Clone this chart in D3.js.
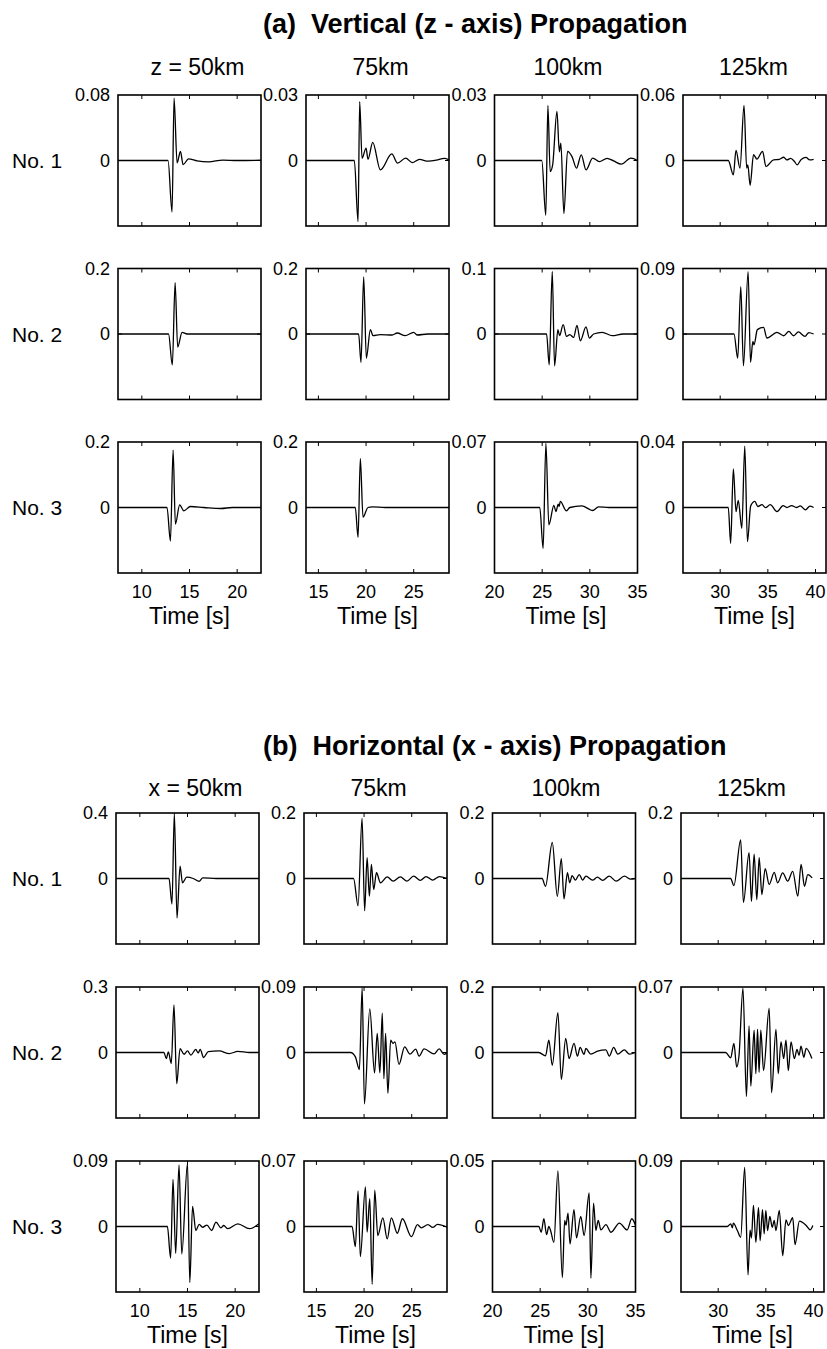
<!DOCTYPE html>
<html>
<head>
<meta charset="utf-8">
<script src="https://cdn.jsdelivr.net/npm/d3@7"></script>
<style>
  html, body { margin:0; padding:0; background:#fff; }
  svg { display:block; font-family:'Liberation Sans', Arial, Helvetica, sans-serif; }
  .title { white-space: pre; }
</style>
</head>
<body>
<svg id="chart" width="827" height="1349"></svg>
<script>
'use strict';

// headings and axes
var sectionTitles = ['(a)  Vertical (z - axis) Propagation', '(b)  Horizontal (x - axis) Propagation'];
var colTitlesA = ['z = 50km', '75km', '100km', '125km'];
var colTitlesB = ['x = 50km', '75km', '100km', '125km'];
var rowLabels = ['No. 1', 'No. 2', 'No. 3'];
var timeRanges = [[7.5, 22.5], [13.7, 28.7], [20, 35], [26.1, 41.1]];
var timeTicks = [[10, 15, 20], [15, 20, 25], [20, 25, 30, 35], [30, 35, 40]];
var ampMaxA = [[0.08, 0.03, 0.03, 0.06], [0.2, 0.2, 0.1, 0.09], [0.2, 0.2, 0.07, 0.04]];
var ampMaxB = [[0.4, 0.2, 0.2, 0.2], [0.3, 0.09, 0.2, 0.07], [0.09, 0.07, 0.05, 0.09]];

// (a) vertical propagation, [time s, amplitude]
var vert1_50 = [[7.5,0],[12.75,0],[13.17,-0.063],[13.38,0.076],[13.7,-0.003],[14.05,0.011],[14.33,-0.005],[14.9,0.002],[15.8,-0.0005],[17.0,-0.0016],[18.5,0.0005],[20.0,0],[22.5,0.0003]];
var vert1_75 = [[13.7,0],[18.77,0],[19.16,-0.028],[19.33,0.027],[19.58,0.001],[20.0,0.0057],[20.2,0.0006],[20.7,0.0083],[21.5,-0.0043],[22.7,0.003],[23.3,-0.0012],[24.15,0.0011],[24.85,-0.001],[25.6,0.0005],[26.5,-0.0003],[27.5,0.0003],[28.2,0.001],[28.7,0.0003]];
var vert1_100 = [[20,0],[24.96,0],[25.38,-0.0251],[25.6,0.0252],[25.84,-0.0051],[26.1,-0.002],[26.55,0.0225],[26.8,0.004],[26.96,0.008],[27.28,-0.0243],[27.66,0.0042],[28.13,0.0018],[28.6,-0.0035],[29.1,0.0026],[29.6,-0.0043],[30.3,0.0011],[31.0,-0.0005],[31.8,0.001],[32.5,-0.0002],[33.3,-0.0017],[34.3,0.0011],[35,0]];
var vert1_125 = [[26.1,0],[30.85,0],[31.38,-0.0132],[31.66,0.0092],[32.08,-0.007],[32.5,0.0505],[32.78,-0.007],[32.9,-0.004],[33.14,-0.0227],[33.5,0.0053],[33.85,0.0013],[34.45,0.0083],[34.8,-0.0055],[35.6,0.0006],[36.2,0.001],[36.66,0.003],[37.0,0.0005],[37.4,0.002],[37.8,-0.001],[38.07,-0.004],[38.5,0.001],[39.0,0.0028],[39.4,0.0005],[39.8,0.001]];
var vert2_50 = [[7.5,0],[12.8,0],[13.2,-0.0945],[13.49,0.157],[13.76,-0.04],[14.22,0.005],[14.75,0],[22.5,0]];
var vert2_75 = [[13.7,0],[19.22,0],[19.47,-0.087],[19.75,0.174],[20.03,-0.074],[20.45,0.013],[20.73,-0.005],[21.5,-0.002],[22.74,-0.003],[23.27,0.003],[24.1,-0.005],[25.0,0.005],[25.35,-0.003],[26.5,0],[28.7,0]];
var vert2_100 = [[20,0],[25.46,0],[25.74,-0.047],[26.06,0.0954],[26.3,-0.0488],[26.65,0.0066],[26.83,-0.0026],[27.2,0.0143],[27.56,-0.0037],[27.9,-0.001],[28.3,-0.0052],[28.65,0.0133],[29.0,-0.0103],[29.6,0.0108],[29.95,-0.0062],[30.4,0],[31.3,0.0025],[32.35,-0.0026],[33.5,0],[35,0]];
var vert2_125 = [[26.1,0],[31.45,0],[31.84,-0.0332],[32.16,0.065],[32.44,-0.0439],[32.93,0.0858],[33.18,-0.0388],[33.43,-0.0102],[33.55,-0.0148],[33.9,0.006],[34.55,0.0092],[34.9,-0.0055],[35.96,0.0022],[36.66,-0.0024],[37.2,0.0036],[37.7,-0.0024],[38.2,0.0028],[38.9,-0.0033],[39.3,0.002],[39.8,0]];
var vert3_50 = [[7.5,0],[12.64,0],[13.0,-0.1025],[13.28,0.1754],[13.52,-0.051],[13.97,0.0083],[14.4,-0.01],[15.1,0.003],[16.5,0],[18.3,-0.003],[19.5,0],[22.5,0]];
var vert3_75 = [[13.7,0],[18.87,0],[19.16,-0.091],[19.4,0.15],[19.68,-0.0295],[20.2,0],[20.65,0.002],[22,0],[28.7,0]];
var vert3_100 = [[20,0],[24.75,0],[25.1,-0.0437],[25.39,0.0686],[25.7,-0.0186],[26.23,0.0022],[26.44,-0.0043],[26.69,0.0036],[26.78,0.001],[26.9,0.0065],[27.55,-0.0036],[27.9,0],[29.15,0.0018],[30.3,-0.0032],[30.9,0.0007],[32,0],[35,0]];
var vert3_125 = [[26.1,0],[30.85,0],[31.1,-0.0219],[31.38,0.0236],[31.66,-0.0025],[31.9,0.0043],[32.27,-0.0127],[32.58,0.0375],[32.86,-0.0209],[33.2,0.001],[33.64,0.0037],[33.95,0.0006],[34.38,0.0017],[34.75,-0.0001],[35.25,0.0017],[35.96,-0.0025],[36.6,0.0012],[37.0,0],[37.5,0.0012],[38.0,0],[38.4,0.001],[38.95,-0.0014],[39.4,0.0008],[39.8,0]];

// (b) horizontal propagation, [time s, amplitude]
var horiz1_50 = [[7.5,0],[13.06,0],[13.37,-0.156],[13.62,0.398],[13.9,-0.242],[14.22,0.076],[14.47,-0.026],[14.92,0.008],[15.6,0],[16.22,-0.017],[16.6,0.004],[18,0],[22.5,0]];
var horiz1_75 = [[13.7,0],[18.9,0],[19.37,-0.083],[19.79,0.184],[20.06,-0.0985],[20.32,0.0637],[20.56,-0.054],[20.77,0.043],[21.01,-0.034],[21.3,0.0175],[21.72,-0.013],[22.42,0.005],[23.05,-0.008],[23.8,0.005],[24.5,-0.008],[25.2,0.007],[25.9,-0.006],[26.5,0.006],[27.2,-0.005],[27.9,0.006],[28.7,0]];
var horiz1_100 = [[20,0],[25.2,0],[25.56,-0.024],[26.27,0.11],[26.8,-0.0545],[27.22,0.0606],[27.5,-0.0625],[27.86,0.0175],[28.1,-0.013],[28.35,0.009],[28.7,-0.005],[29.1,0.012],[29.45,-0.005],[29.8,0.007],[30.5,-0.005],[31.0,0.004],[31.55,-0.006],[32.25,0.007],[32.96,-0.008],[33.84,0.007],[34.5,-0.002],[35,0]];
var horiz1_125 = [[26.1,0],[31.3,0],[31.65,-0.0215],[32.36,0.118],[32.65,-0.073],[33.24,0.079],[33.49,-0.07],[33.77,0.074],[34.05,-0.0646],[34.3,0.0637],[34.58,-0.049],[34.93,0.03],[35.35,-0.018],[35.88,0.019],[36.24,-0.013],[36.77,0.017],[37.29,-0.008],[37.82,0.022],[38.35,-0.054],[38.7,0.043],[39.05,-0.024],[39.4,0.012],[39.86,0.002]];
var horiz2_50 = [[7.5,0],[12.53,0],[12.78,-0.028],[12.99,0.003],[13.3,-0.05],[13.58,0.218],[13.87,-0.143],[14.22,0.018],[14.64,-0.008],[15.0,0.007],[15.35,-0.012],[15.87,0.014],[16.12,-0.002],[16.33,0.014],[16.69,-0.023],[17.17,0.004],[18.33,0.007],[19.39,-0.005],[20.28,0.005],[21.5,0],[22.5,0]];
var horiz2_75 = [[13.7,0],[18.59,0],[19.09,-0.006],[19.51,-0.0235],[19.8,0.0886],[20.04,-0.0706],[20.6,0.06],[21.1,-0.028],[21.38,0.0263],[21.66,-0.028],[21.91,0.054],[22.08,-0.036],[22.26,0.0263],[22.5,-0.056],[22.79,0.017],[23.03,0.0125],[23.24,0.0147],[23.66,-0.0162],[24.26,0.0078],[24.82,-0.0023],[25.42,0.0047],[25.77,-0.005],[26.3,0.005],[27.35,-0.002],[27.88,0.005],[28.4,-0.0025],[28.7,0]];
var horiz2_100 = [[20,0],[24.86,0],[25.56,-0.01],[25.91,0.038],[26.27,-0.039],[26.86,0.122],[27.22,-0.082],[27.68,0.043],[28.03,-0.0185],[28.55,0.0277],[28.91,-0.011],[29.19,0.0154],[29.61,-0.0056],[29.79,0.0123],[30.32,-0.005],[31.02,0.004],[31.9,0.008],[32.25,-0.011],[32.71,0.0154],[33.14,-0.005],[33.83,0.008],[34.36,-0.005],[35,0]];
var horiz2_125 = [[26.1,0],[30.78,0],[31.31,-0.0058],[31.65,0.0097],[31.94,-0.0155],[32.18,-0.004],[32.6,0.0689],[32.96,-0.047],[33.24,0.0283],[33.42,-0.036],[33.77,0.024],[33.95,-0.0226],[34.13,0.0248],[34.29,-0.0212],[34.47,0.024],[34.76,-0.0194],[35.35,0.0474],[35.6,-0.043],[36.06,0.0248],[36.3,-0.0226],[36.59,0.0114],[36.87,-0.0066],[37.11,0.0132],[37.36,-0.0194],[37.64,0.0114],[37.99,-0.0066],[38.27,0.0032],[38.48,-0.003],[38.69,0.0068],[38.98,-0.0051],[39.23,0.0044],[39.83,-0.0065]];
var horiz3_50 = [[7.5,0],[12.89,0],[13.23,-0.0434],[13.48,0.0646],[13.76,-0.037],[14.11,0.0845],[14.4,-0.0378],[15.0,0.0868],[15.24,-0.0771],[15.53,0.0277],[15.87,-0.0055],[16.22,0.003],[16.58,-0.001],[17.04,0.002],[17.53,-0.0055],[17.99,0.006],[18.51,-0.0018],[18.8,0.0014],[19.22,-0.003],[20.28,0.0037],[21.5,-0.003],[22.5,0.0037]];
var horiz3_75 = [[13.7,0],[18.74,0],[19.09,-0.0215],[19.37,0.038],[19.61,-0.0323],[20.14,0.0423],[20.32,-0.006],[20.6,0.0298],[20.85,-0.0617],[21.12,0.0388],[21.44,-0.0097],[21.97,0.0093],[22.43,-0.0133],[22.86,0.0093],[23.49,-0.0072],[24.02,0.0083],[24.97,-0.0108],[25.6,0.002],[26.0,-0.0014],[26.7,0.002],[27.2,-0.001],[27.7,0.0022],[28.7,-0.0007]];
var horiz3_100 = [[20,0],[24.86,0],[25.11,-0.0044],[25.39,0.0059],[25.67,-0.0062],[25.91,0],[26.09,-0.003],[26.44,-0.0121],[26.86,0.0425],[27.33,-0.039],[27.57,0.0046],[27.71,0.001],[27.92,0.0102],[28.13,-0.0133],[28.55,0.0128],[28.81,-0.0087],[29.26,0.0077],[29.61,-0.0069],[30.14,0.0256],[30.32,-0.0395],[30.6,0.0179],[30.84,-0.003],[31.09,0.0046],[31.37,-0.0026],[31.9,0.0015],[32.43,-0.0044],[33.31,0.0026],[34.12,-0.0026],[34.61,0.0059],[35,0.001]];
var horiz3_125 = [[26.1,0],[30.96,0],[31.31,0.0037],[31.49,-0.0018],[31.59,0.0046],[32.01,-0.0055],[32.36,-0.0148],[32.78,0.0813],[33.13,-0.0665],[33.34,-0.005],[33.49,-0.0157],[33.7,0.029],[33.95,-0.0217],[34.23,0.0259],[34.4,-0.0194],[34.65,0.0231],[34.82,-0.0101],[35.0,0.0222],[35.18,-0.0055],[35.42,0.0138],[35.67,-0.001],[35.88,0.0083],[36.06,-0.0055],[36.41,0.0222],[36.77,-0.0402],[37.11,0.0092],[37.36,0.0014],[37.82,0.012],[38.06,-0.025],[38.52,0.0074],[39.23,0.0014],[39.65,-0.0046],[39.93,0.0014]];

var vertTraces = [[vert1_50, vert1_75, vert1_100, vert1_125],
                  [vert2_50, vert2_75, vert2_100, vert2_125],
                  [vert3_50, vert3_75, vert3_100, vert3_125]];
var horizTraces = [[horiz1_50, horiz1_75, horiz1_100, horiz1_125],
                   [horiz2_50, horiz2_75, horiz2_100, horiz2_125],
                   [horiz3_50, horiz3_75, horiz3_100, horiz3_125]];

// layout
var colLeft = [118, 306, 494.5, 683], panelW = 143, panelH = 131, tickLen = 4;
var headShift = [8, 3, 2, -1];
var sections = [
  { title: sectionTitles[0], heads: colTitlesA, amps: ampMaxA, traces: vertTraces,
    titleY: 33, headY: 75, rowTop: [95, 268.5, 442], shift: 0 },
  { title: sectionTitles[1], heads: colTitlesB, amps: ampMaxB, traces: horizTraces,
    titleY: 755, headY: 796, rowTop: [813, 987, 1161], shift: -2 }
];

var svg = d3.select('#chart');
svg.append('rect').attr('width', 827).attr('height', 1349).style('fill', '#fff');

var line = d3.line().curve(d3.curveMonotoneX);

function drawPanel(g, trace, tr, ticks, amp, last, id){
  var x = d3.scaleLinear().domain(tr).range([0, panelW]);
  var y = d3.scaleLinear().domain([-amp, amp]).range([panelH, 0]);

  g.append('clipPath').attr('id', id)
    .append('rect').attr('width', panelW).attr('height', panelH);

  // trace
  g.append('path')
      .attr('clip-path', 'url(#' + id + ')')
      .attr('d', line.x(function(d){ return x(d[0]); }).y(function(d){ return y(d[1]); })(trace))
      .style('fill', 'none')
      .style('stroke', '#000')
      .style('stroke-width', 1.3)
      .style('stroke-linejoin', 'round');

  // inner ticks, top and bottom
  ticks.forEach(function(t){
    g.append('line').attr('x1', x(t)).attr('x2', x(t)).attr('y1', 0).attr('y2', tickLen)
      .style('stroke', '#000');
    g.append('line').attr('x1', x(t)).attr('x2', x(t)).attr('y1', panelH).attr('y2', panelH - tickLen)
      .style('stroke', '#000');
  });
  [0, panelW].forEach(function(px, i){
    g.append('line').attr('x1', px).attr('x2', i ? px - tickLen : px + tickLen)
      .attr('y1', y(0)).attr('y2', y(0)).style('stroke', '#000');
  });

  // frame
  g.append('rect')
      .attr('width', panelW).attr('height', panelH)
      .style('fill', 'none').style('stroke', '#000').style('stroke-width', 1.6);

  // amplitude labels
  [amp, 0].forEach(function(v){
    g.append('text')
        .attr('x', -8).attr('y', y(v)).attr('dy', '0.36em')
        .style('font-size', '18px').style('text-anchor', 'end')
        .text(String(v));
  });

  if (last){
    ticks.forEach(function(t){
      g.append('text')
          .attr('x', x(t)).attr('y', panelH + 25)
          .style('font-size', '18px').style('text-anchor', 'middle')
          .text(t);
    });
    g.append('text')
        .attr('x', panelW / 2).attr('y', panelH + 51)
        .style('font-size', '23px').style('text-anchor', 'middle')
        .text('Time [s]');
  }
}

sections.forEach(function(s, si){
  svg.append('text')
      .attr('class', 'title')
      .attr('x', 263).attr('y', s.titleY)
      .style('font-size', '27px').style('font-weight', 'bold')
      .text(s.title);

  s.heads.forEach(function(h, c){
    svg.append('text')
        .attr('x', colLeft[c] + s.shift + panelW / 2 + headShift[c]).attr('y', s.headY)
        .style('font-size', '23px').style('text-anchor', 'middle')
        .text(h);
  });

  s.rowTop.forEach(function(top, r){
    svg.append('text')
        .attr('x', 12).attr('y', top + panelH / 2).attr('dy', '0.36em')
        .style('font-size', '21px')
        .text(rowLabels[r]);

    for (var c = 0; c < 4; c++){
      var g = svg.append('g')
          .attr('transform', 'translate(' + (colLeft[c] + s.shift) + ',' + top + ')');
      drawPanel(g, s.traces[r][c], timeRanges[c], timeTicks[c], s.amps[r][c], r === 2,
                'clip' + si + r + c);
    }
  });
});
</script>
</body>
</html>
